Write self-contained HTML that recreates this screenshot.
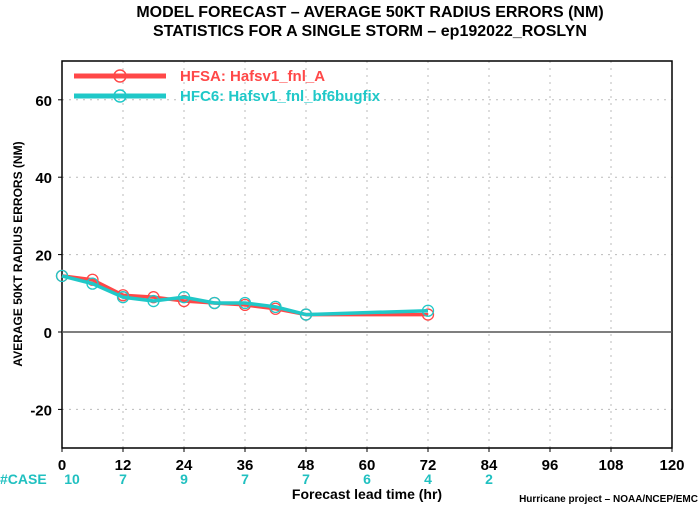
<!DOCTYPE html>
<html><head><meta charset="utf-8"><style>
body{margin:0;background:#fff;}
svg text{font-family:"Liberation Sans",sans-serif;font-weight:bold;}
</style></head><body>
<svg id="chart" width="700" height="506">
<text x="370" y="17" font-size="16" text-anchor="middle">MODEL FORECAST – AVERAGE 50KT RADIUS ERRORS (NM)</text>
<text x="370" y="36" font-size="16" text-anchor="middle">STATISTICS FOR A SINGLE STORM – ep192022_ROSLYN</text>
<g id="grid"></g>
<rect x="62" y="61" width="610" height="387" fill="none" stroke="#000" stroke-width="1.5"/>
<g id="axes"></g>
<g id="series"></g>
<text x="22" y="254" font-size="12" text-anchor="middle" transform="rotate(-90 22 254)">AVERAGE 50KT RADIUS ERRORS (NM)</text>
<text x="367" y="499" font-size="14" text-anchor="middle">Forecast lead time (hr)</text>
<text x="698" y="502" font-size="10" text-anchor="end" font-weight="normal">Hurricane project – NOAA/NCEP/EMC</text>
<text x="0" y="484" font-size="14" fill="#20c0c0">#CASE</text>
<g id="legend">
<line x1="74" y1="76" x2="166" y2="76" stroke="#ff4848" stroke-width="5"/>
<circle cx="120" cy="76" r="6" fill="none" stroke="#ff4848" stroke-width="1.5"/>
<text x="180" y="81" font-size="15" fill="#ff4848">HFSA: Hafsv1_fnl_A</text>
<line x1="74" y1="96" x2="166" y2="96" stroke="#20c8c8" stroke-width="5"/>
<circle cx="120" cy="96" r="6" fill="none" stroke="#20c8c8" stroke-width="1.5"/>
<text x="180" y="101" font-size="15" fill="#20c8c8">HFC6: Hafsv1_fnl_bf6bugfix</text>
</g>
</svg>
<script>
const xTicks=[0,12,24,36,48,60,72,84,96,108,120];
const yTicks=[-20,0,20,40,60];
const leads=[0,6,12,18,24,30,36,42,48,72];
const hfsa=[14.5,13.5,9.5,9,8,7.5,7,6,4.5,4.5];
const hfc6=[14.5,12.5,9,8,9,7.5,7.5,6.5,4.5,5.5];
const caseLeads=[0,12,24,36,48,60,72,84];
const caseCounts=[10,7,9,7,7,6,4,2];
const NS="http://www.w3.org/2000/svg";
const X=v=>62+v*(610/120);
const Y=v=>332-v*(387/100);
function mk(tag,attrs,parent,txt){const e=document.createElementNS(NS,tag);for(const k in attrs)e.setAttribute(k,attrs[k]);if(txt!==undefined)e.textContent=txt;parent.appendChild(e);return e;}
const grid=document.getElementById('grid'),axes=document.getElementById('axes'),ser=document.getElementById('series');
xTicks.forEach(t=>{
 if(t>0&&t<120){const g=mk('line',{x1:X(t),x2:X(t),y1:61,y2:448,stroke:'#bbb','stroke-dasharray':'2,5'},grid);
 
 }
 const l=mk('text',{x:X(t),y:470,'font-size':15,'text-anchor':'middle'},axes,String(t));
 
 
 mk('line',{x1:X(t),x2:X(t),y1:448,y2:452,stroke:'#000'},axes);
});
yTicks.forEach(t=>{
 if(t!==0){const g=mk('line',{x1:62,x2:672,y1:Y(t),y2:Y(t),stroke:'#bbb','stroke-dasharray':'2,5'},grid);
 
 }
 const l=mk('text',{x:52,y:Y(t)+6,'font-size':15,'text-anchor':'end'},axes,String(t));
 
 
 mk('line',{x1:58,x2:62,y1:Y(t),y2:Y(t),stroke:'#000'},axes);
});
const zl=mk('line',{x1:62,x2:672,y1:Y(0),y2:Y(0),stroke:'#555','stroke-width':1.5},axes);


caseLeads.forEach((t,i)=>{
 const c=mk('text',{x:X(t)+(i===0?10:0),y:484,'font-size':14,'text-anchor':'middle',fill:'#20c0c0'},axes,String(caseCounts[i]));
 
 
});
function draw(vals,color,name){
 const pts=leads.map((t,i)=>X(t)+','+Y(vals[i])).join(' ');
 const p=mk('polyline',{points:pts,fill:'none',stroke:color,'stroke-width':3.5,'stroke-linejoin':'round'},ser);
 
 
 leads.forEach((t,i)=>{
  const c=mk('circle',{cx:X(t),cy:Y(vals[i]),r:5.5,fill:'none',stroke:color,'stroke-width':1.3},ser);
  
  
 });
}
draw(hfsa,'#ff4848','hfsa');
draw(hfc6,'#20c8c8','hfc6');
</script>
</body></html>
